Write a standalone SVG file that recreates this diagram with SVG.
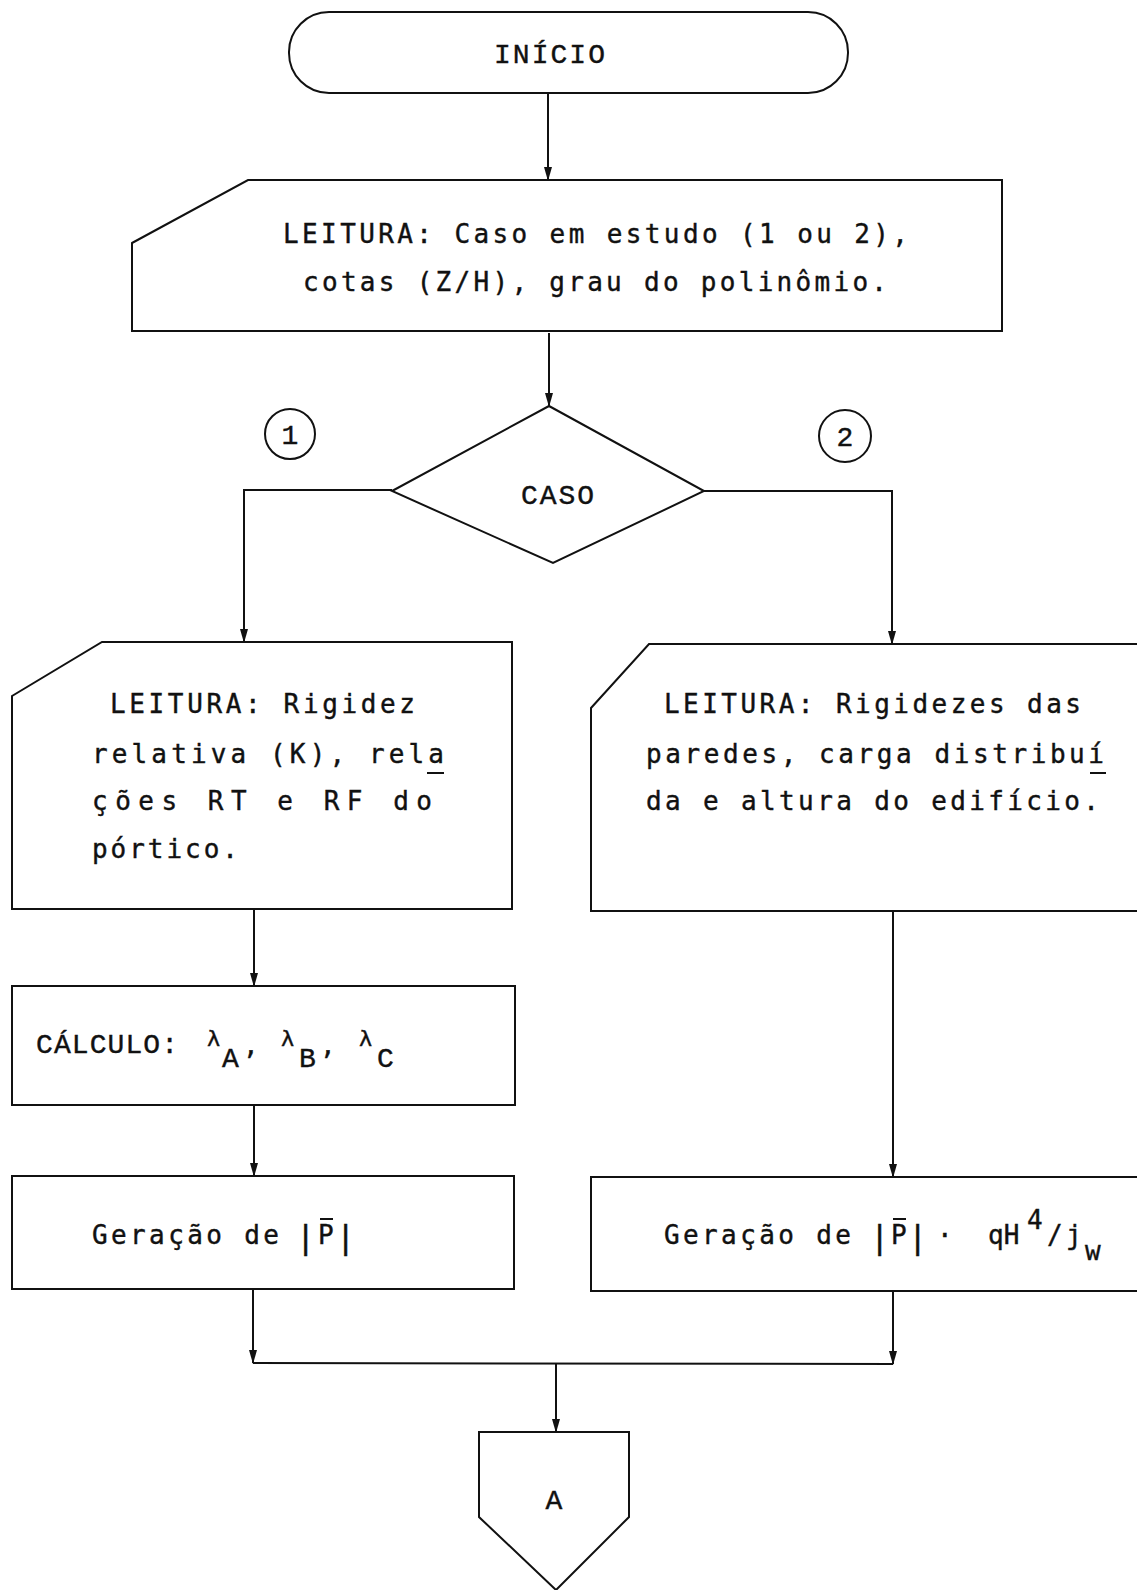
<svg xmlns="http://www.w3.org/2000/svg" width="1137" height="1590" viewBox="0 0 1137 1590">
<style>
.s{fill:#fff;stroke:#111;stroke-width:2}
.c{fill:none;stroke:#111;stroke-width:2}
.t{font-family:"DejaVu Sans Mono","Liberation Mono",monospace;font-size:26px;fill:#111;stroke:#111;stroke-width:0.4}
.u{font-family:"Liberation Mono","DejaVu Sans Mono",monospace;font-size:28px;fill:#111;stroke:#111;stroke-width:0.4}
.sm{font-size:22px}
.bar{font-size:32px}
</style>
<defs>
<marker id="ah" markerWidth="14" markerHeight="8" refX="13" refY="4" orient="auto" markerUnits="userSpaceOnUse">
<path d="M0,0 L14,4 L0,8 Z" fill="#111"/>
</marker>
</defs>
<rect width="1137" height="1590" fill="#fff"/>
<g id="connectors">
<line class="c" x1="548" y1="93" x2="548" y2="180" marker-end="url(#ah)"/>
<line class="c" x1="549" y1="333" x2="549" y2="406" marker-end="url(#ah)"/>
<polyline class="c" points="392,490 244,490 244,642" marker-end="url(#ah)"/>
<polyline class="c" points="704,491 892,491 892,644" marker-end="url(#ah)"/>
<line class="c" x1="254" y1="909" x2="254" y2="986" marker-end="url(#ah)"/>
<line class="c" x1="254" y1="1105" x2="254" y2="1176" marker-end="url(#ah)"/>
<line class="c" x1="893" y1="911" x2="893" y2="1177" marker-end="url(#ah)"/>
<line class="c" x1="253" y1="1289" x2="253" y2="1363" marker-end="url(#ah)"/>
<line class="c" x1="893" y1="1291" x2="893" y2="1364" marker-end="url(#ah)"/>
<line class="c" x1="253" y1="1363" x2="893" y2="1364"/>
<line class="c" x1="556" y1="1363" x2="556" y2="1432" marker-end="url(#ah)"/>
</g>
<g id="inicio">
<rect class="s" x="289" y="12" width="559" height="81" rx="40" ry="40"/>
<text class="u" x="494" y="63" textLength="111" lengthAdjust="spacing">INÍCIO</text>
</g>
<g id="leitura1">
<path class="s" d="M132,243 L248,180 L1002,180 L1002,331 L132,331 Z"/>
<text class="t" x="283" y="243" textLength="625" lengthAdjust="spacing">LEITURA: Caso em estudo (1 ou 2),</text>
<text class="t" x="303" y="291" textLength="584" lengthAdjust="spacing">cotas (Z/H), grau do polinômio.</text>
</g>
<g id="caso">
<path class="s" d="M549,406 L704,491 L553,563 L392,491 Z"/>
<text class="u" x="521" y="504" textLength="73" lengthAdjust="spacing">CASO</text>
</g>
<g id="label1">
<circle class="s" cx="290" cy="434" r="25"/>
<text class="u" x="290" y="444" text-anchor="middle">1</text>
</g>
<g id="label2">
<circle class="s" cx="845" cy="436" r="26"/>
<text class="u" x="845" y="446" text-anchor="middle">2</text>
</g>
<g id="leitura-k">
<path class="s" d="M12,696 L102,642 L512,642 L512,909 L12,909 Z"/>
<text class="t" x="110" y="713" textLength="305" lengthAdjust="spacing">LEITURA: Rigidez</text>
<text class="t" x="92" y="763" textLength="352" lengthAdjust="spacing">relativa (K), rela</text>
<line class="c" x1="427" y1="773" x2="444" y2="773"/>
<text class="t" x="92" y="810" textLength="340" lengthAdjust="spacing">ções RT  e  RF  do</text>
<text class="t" x="92" y="858" textLength="146" lengthAdjust="spacing">pórtico.</text>
</g>
<g id="leitura-paredes">
<path class="s" d="M591,708 L649,644 L1140,644 L1140,911 L591,911 Z"/>
<text class="t" x="664" y="713" textLength="417" lengthAdjust="spacing">LEITURA: Rigidezes das</text>
<text class="t" x="646" y="763" textLength="458" lengthAdjust="spacing">paredes, carga distribuí</text>
<line class="c" x1="1090" y1="773" x2="1106" y2="773"/>
<text class="t" x="646" y="810" textLength="453" lengthAdjust="spacing">da e altura do edifício.</text>
</g>
<g id="calculo">
<rect class="s" x="12" y="986" width="503" height="119"/>
<text class="u" x="36" y="1053" textLength="142" lengthAdjust="spacing">CÁLCULO:</text>
<text class="t sm" x="207" y="1046">λ</text>
<text class="u" x="222" y="1067">A</text>
<text class="t" x="243" y="1054">,</text>
<text class="t sm" x="281" y="1046">λ</text>
<text class="u" x="299" y="1067">B</text>
<text class="t" x="320" y="1054">,</text>
<text class="t sm" x="359" y="1046">λ</text>
<text class="u" x="377" y="1067">C</text>
</g>
<g id="geracao1">
<rect class="s" x="12" y="1176" width="502" height="113"/>
<text class="t" x="92" y="1244" textLength="187" lengthAdjust="spacing">Geração de</text>
<text class="t bar" x="296" y="1248">|</text>
<text class="t" x="318" y="1244">P</text>
<line class="c" x1="320" y1="1219" x2="333" y2="1219" stroke-width="1.6"/>
<text class="t bar" x="336" y="1248">|</text>
</g>
<g id="geracao2">
<rect class="s" x="591" y="1177" width="549" height="114"/>
<text class="t" x="664" y="1244" textLength="187" lengthAdjust="spacing">Geração de</text>
<text class="t bar" x="870" y="1248">|</text>
<text class="t" x="891" y="1244">P</text>
<line class="c" x1="893" y1="1219" x2="906" y2="1219" stroke-width="1.6"/>
<text class="t bar" x="908" y="1248">|</text>
<text class="t" x="937" y="1244">·</text>
<text class="t" x="988" y="1244">qH</text>
<text class="t" x="1027" y="1229" font-size="22">4</text>
<text class="t" x="1047" y="1244">/</text>
<text class="t" x="1066" y="1244">j</text>
<text class="t" x="1085" y="1260" font-size="22">w</text>
</g>
<g id="conector-a">
<path class="s" d="M479,1432 L629,1432 L629,1517 L556,1590 L479,1517 Z"/>
<text class="u" x="554" y="1509" text-anchor="middle">A</text>
</g>
</svg>
